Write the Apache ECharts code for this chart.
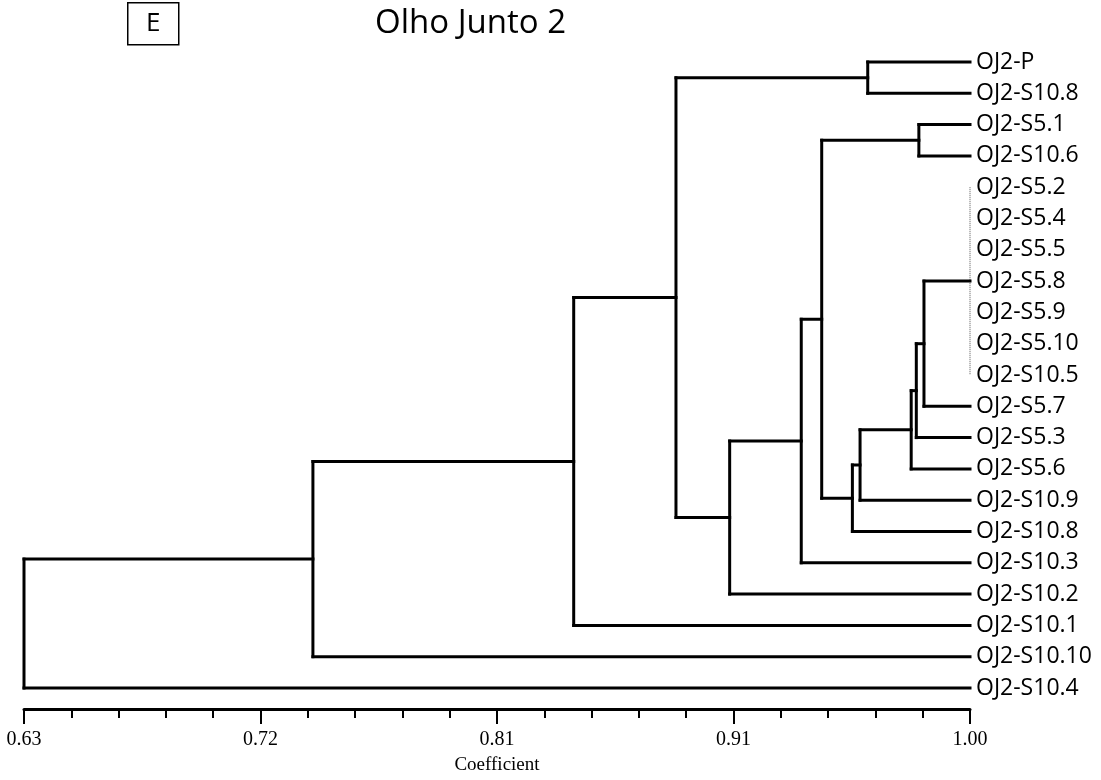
<!DOCTYPE html>
<html>
<head>
<meta charset="utf-8">
<script src="https://cdn.jsdelivr.net/npm/echarts@6/dist/echarts.min.js"></script>
<style>
  html, body { margin: 0; padding: 0; background: #fff; }
  #chart { width: 1101px; height: 780px; }
</style>
</head>
<body>
<div id="chart"></div>
<script>
    // leaves, top to bottom
    var leaves = ['OJ2-P', 'OJ2-S10.8', 'OJ2-S5.1', 'OJ2-S10.6', 'OJ2-S5.2', 'OJ2-S5.4',
        'OJ2-S5.5', 'OJ2-S5.8', 'OJ2-S5.9', 'OJ2-S5.10', 'OJ2-S10.5', 'OJ2-S5.7',
        'OJ2-S5.3', 'OJ2-S5.6', 'OJ2-S10.9', 'OJ2-S10.8', 'OJ2-S10.3', 'OJ2-S10.2',
        'OJ2-S10.1', 'OJ2-S10.10', 'OJ2-S10.4'];

    // merges: [children, coefficient]; numbers are leaves, 'mN' is merge N
    var merges = [
        [[0, 1], 0.960],
        [[2, 3], 0.980],
        [[4, 5, 6, 7, 8, 9, 10], 1.00],
        [['m2', 11], 0.982],
        [['m3', 12], 0.979],
        [['m4', 13], 0.977],
        [['m5', 14], 0.957],
        [['m6', 15], 0.954],
        [['m1', 'm7'], 0.942],
        [['m8', 16], 0.934],
        [['m9', 17], 0.906],
        [['m0', 'm10'], 0.885],
        [['m11', 18], 0.845],
        [['m12', 19], 0.743],
        [['m13', 20], 0.630]
    ];

    var tickLabels = ['0.63', '0.72', '0.81', '0.91', '1.00'];
    var axisMin = 0.63, axisMax = 1.00;

    // build segments [x1, y1, x2, y2, dotted]
    var nodes = {};
    var segs = [];
    function nodeOf(k) {
        if (typeof k === 'number') return {x: 1.0, y: k};
        return nodes[k];
    }
    merges.forEach(function (m, i) {
        var kids = m[0].map(nodeOf);
        var c = m[1];
        var ys = kids.map(function (k) { return k.y; });
        var y0 = Math.min.apply(null, ys), y1 = Math.max.apply(null, ys);
        var tie = c >= 1.0;
        segs.push([c, y0, c, y1, tie ? 1 : 0]);
        kids.forEach(function (k) {
            if (k.x !== c) segs.push([k.x, k.y, c, k.y, 0]);
        });
        nodes['m' + i] = {x: c, y: (y0 + y1) / 2};
    });

    var dom = document.getElementById('chart');
    var myChart = echarts.init(dom);

    var option = {
        animation: false,
        backgroundColor: '#fff',
        title: {
            text: 'Olho Junto 2',
            left: 370,
            top: 2,
            textStyle: {fontFamily: 'Open Sans', fontSize: 33, fontWeight: 'normal', color: '#000'}
        },
        graphic: [{
            type: 'group',
            left: 127,
            top: 2,
            children: [{
                type: 'rect',
                shape: {x: 0, y: 0, width: 51, height: 42},
                style: {fill: '#fff', stroke: '#000', lineWidth: 1.5}
            }, {
                type: 'text',
                x: 25.5, y: 21,
                style: {text: 'E', fontFamily: 'Open Sans', fontSize: 26, fill: '#000', align: 'center', verticalAlign: 'middle'}
            }]
        }],
        grid: {left: 24, right: 131, top: 62, bottom: 88},
        xAxis: {
            type: 'value',
            position: 'bottom',
            min: axisMin,
            max: axisMax,
            interval: 0.0925,
            offset: 21,
            name: 'Coefficient',
            nameLocation: 'middle',
            nameGap: 47,
            nameTextStyle: {fontFamily: 'Liberation Serif', fontSize: 19, color: '#000'},
            axisLine: {show: true, onZero: false, lineStyle: {color: '#000', width: 3}},
            axisTick: {show: true, length: 15, lineStyle: {color: '#000', width: 2}},
            minorTick: {show: true, splitNumber: 5, length: 9, lineStyle: {color: '#000', width: 2}},
            splitLine: {show: false},
            axisLabel: {
                margin: 21,
                fontFamily: 'Liberation Serif',
                fontSize: 20,
                color: '#000',
                formatter: function (v, idx) { return tickLabels[idx]; }
            }
        },
        yAxis: {
            type: 'value',
            position: 'right',
            inverse: true,
            min: 0,
            max: leaves.length - 1,
            interval: 1,
            axisLine: {show: false},
            axisTick: {show: false},
            splitLine: {show: false},
            axisLabel: {
                margin: 6,
                fontFamily: 'Open Sans',
                fontSize: 23,
                color: '#000',
                formatter: function (v) { return leaves[v] || ''; }
            }
        },
        series: [{
            type: 'custom',
            data: segs,
            encode: {x: [0, 2], y: [1, 3]},
            renderItem: function (params, api) {
                var p1 = api.coord([api.value(0), api.value(1)]);
                var p2 = api.coord([api.value(2), api.value(3)]);
                var dotted = api.value(4) === 1;
                return {
                    type: 'line',
                    shape: {x1: p1[0], y1: p1[1], x2: p2[0], y2: p2[1]},
                    style: dotted
                        ? {stroke: '#555', lineWidth: 1, lineDash: [1, 1]}
                        : {stroke: '#000', lineWidth: 3, lineCap: 'square'}
                };
            }
        }]
    };
    myChart.setOption(option);
</script>
</body>
</html>
